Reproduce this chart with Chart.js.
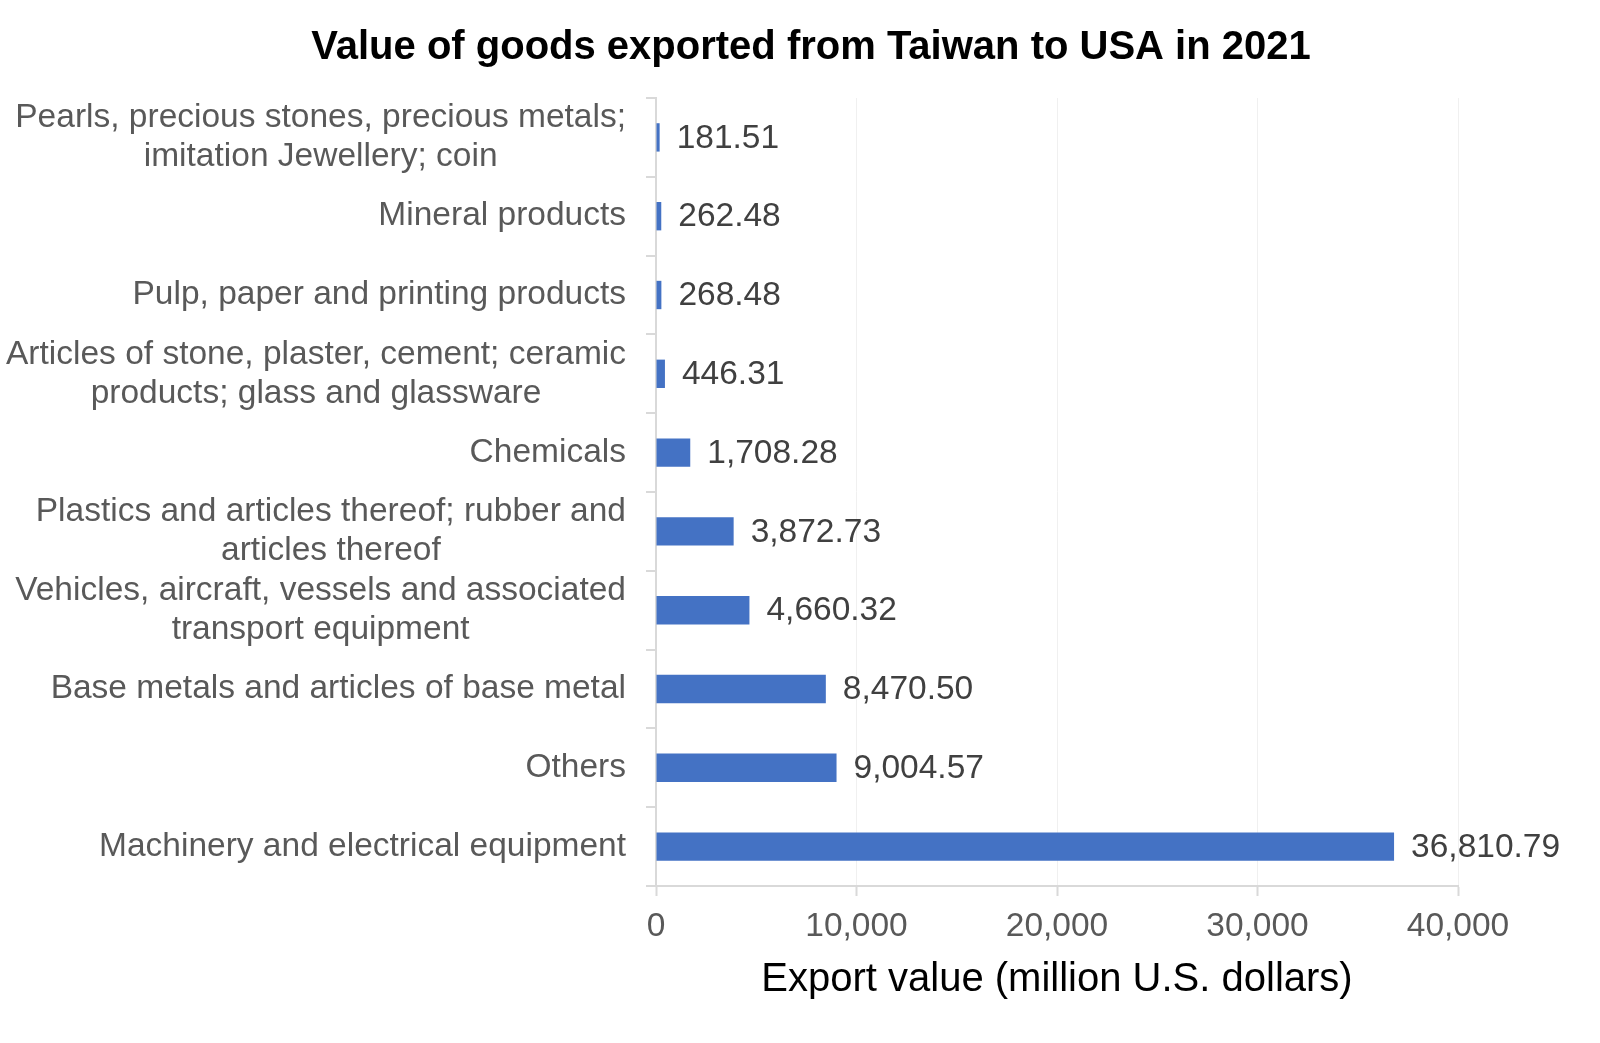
<!DOCTYPE html>
<html>
<head>
<meta charset="utf-8">
<title>Value of goods exported from Taiwan to USA in 2021</title>
<script src="https://cdn.jsdelivr.net/npm/chart.js@4.4.1/dist/chart.umd.min.js"></script>
<style>
  html, body { margin: 0; padding: 0; background: #fff; }
  #wrap { width: 1600px; height: 1043px; position: relative; }
</style>
</head>
<body>
<div id="wrap"><canvas id="chart"></canvas></div>
<script>
const chartTitle = 'Value of goods exported from Taiwan to USA in 2021';
const axisTitle = 'Export value (million U.S. dollars)';

const categories = [
  ['Pearls, precious stones, precious metals;', 'imitation Jewellery; coin'],
  'Mineral products',
  'Pulp, paper and printing products',
  ['Articles of stone, plaster, cement; ceramic', 'products; glass and glassware'],
  'Chemicals',
  ['Plastics and articles thereof; rubber and', 'articles thereof'],
  ['Vehicles, aircraft, vessels and associated', 'transport equipment'],
  'Base metals and articles of base metal',
  'Others',
  'Machinery and electrical equipment'
];
const exportValues = [181.51, 262.48, 268.48, 446.31, 1708.28, 3872.73, 4660.32, 8470.50, 9004.57, 36810.79];
const valueTicks = [0, 10000, 20000, 30000, 40000];

const FONT = '"Liberation Sans", Arial, sans-serif';

// category labels: block right aligned, lines centred on each other
const categoryLabels = {
  id: 'categoryLabels',
  afterDraw(chart) {
    const { ctx } = chart;
    const scale = chart.scales.y;
    const right = chart.chartArea.left - 30;
    const lineHeight = 39;
    ctx.save();
    ctx.font = '33.5px ' + FONT;
    ctx.fillStyle = '#595959';
    ctx.textAlign = 'center';
    ctx.textBaseline = 'middle';
    categories.forEach((label, i) => {
      const lines = Array.isArray(label) ? label : [label];
      const width = Math.max(...lines.map((l) => ctx.measureText(l).width));
      const cx = right - width / 2;
      const y0 = scale.getPixelForTick(i) - (lines.length - 1) * lineHeight / 2;
      lines.forEach((line, j) => ctx.fillText(line, cx, y0 + j * lineHeight));
    });
    ctx.restore();
  }
};

const valueLabels = {
  id: 'valueLabels',
  afterDatasetsDraw(chart) {
    const { ctx } = chart;
    const meta = chart.getDatasetMeta(0);
    ctx.save();
    ctx.font = '33.5px ' + FONT;
    ctx.fillStyle = '#404040';
    ctx.textAlign = 'left';
    ctx.textBaseline = 'middle';
    meta.data.forEach((bar, i) => {
      const text = exportValues[i].toLocaleString('en-US', { minimumFractionDigits: 2, maximumFractionDigits: 2 });
      ctx.fillText(text, bar.x + 17, bar.y + 1);
    });
    ctx.restore();
  }
};

const topTitle = {
  id: 'topTitle',
  afterDraw(chart) {
    const { ctx } = chart;
    ctx.save();
    ctx.font = 'bold 40px ' + FONT;
    ctx.fillStyle = '#000';
    ctx.textAlign = 'center';
    ctx.textBaseline = 'middle';
    ctx.fillText(chartTitle, 811, 48);
    ctx.restore();
  }
};

new Chart(document.getElementById('chart'), {
  type: 'bar',
  data: {
    labels: categories,
    datasets: [{
      label: 'Export value',
      data: exportValues,
      backgroundColor: '#4472c4',
      barPercentage: 0.36,
      categoryPercentage: 1
    }]
  },
  options: {
    indexAxis: 'y',
    responsive: true,
    maintainAspectRatio: false,
    animation: false,
    layout: { padding: { top: 98, right: 142, bottom: 0, left: 0 } },
    plugins: {
      legend: { display: false },
      tooltip: { enabled: false }
    },
    scales: {
      x: {
        min: valueTicks[0],
        max: valueTicks[valueTicks.length - 1],
        afterBuildTicks(scale) {
          scale.ticks = valueTicks.map((v) => ({ value: v }));
        },
        afterFit(scale) { scale.height = 157; },
        grid: { color: '#f0f0f0', lineWidth: 1, tickColor: '#d9d9d9', tickWidth: 2, tickLength: 10 },
        border: { color: '#d9d9d9', width: 2 },
        ticks: {
          padding: 11,
          color: '#595959',
          font: { family: FONT, size: 33.5 },
          callback: (v) => v.toLocaleString('en-US')
        },
        title: {
          display: true,
          text: axisTitle,
          color: '#000',
          font: { family: FONT, size: 40 },
          padding: { top: 0, bottom: 39 }
        }
      },
      y: {
        afterFit(scale) { scale.width = 656; },
        grid: { offset: true, drawOnChartArea: false, color: '#d9d9d9', lineWidth: 2, tickLength: 10 },
        border: { color: '#d9d9d9', width: 2 },
        ticks: { display: false }
      }
    }
  },
  plugins: [categoryLabels, valueLabels, topTitle]
});
</script>
</body>
</html>
